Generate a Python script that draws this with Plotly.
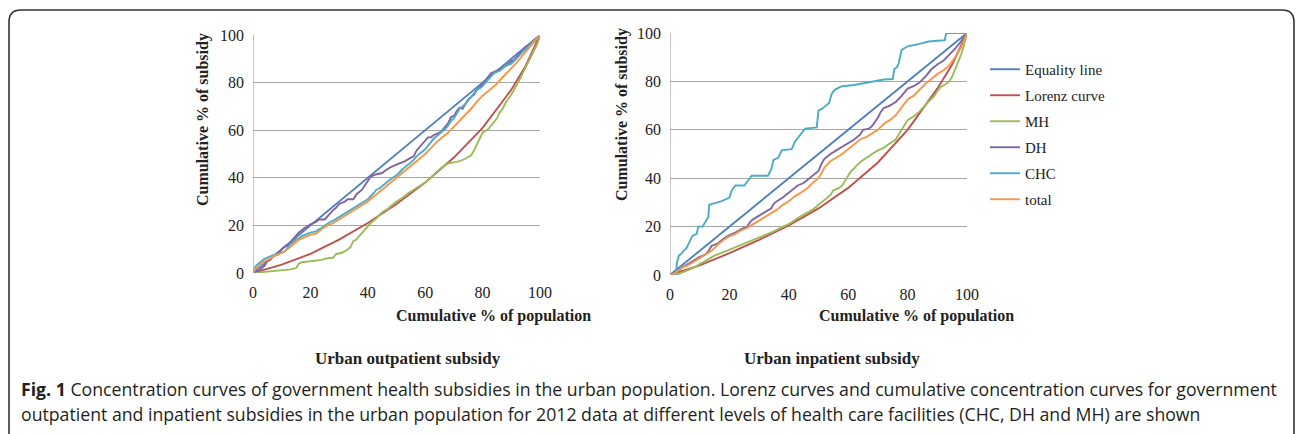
import plotly.graph_objects as go

W, H = 1296, 434

# ---------------- data ----------------
series_names = ["Equality line", "Lorenz curve", "MH", "DH", "CHC", "total"]
series_colors = ["#4F81BD", "#C0504D", "#9BBB59", "#8064A2", "#4BACC6", "#F79646"]

axis_ticks = [0, 20, 40, 60, 80, 100]

# Urban outpatient subsidy
eq_x = [0, 100]
eq_y = [0, 100]

lor_out_x = [0, 10, 20, 30, 40, 50, 60, 70, 80, 90, 95, 100]
lor_out_y = [0, 3.5, 8, 14, 21, 29, 38, 48.5, 61, 77, 87, 100]

mh_out_x = [0, 5, 10, 13, 15, 16, 17, 20, 22, 24, 25, 28, 29, 31, 32.5, 34, 35, 36, 37, 38, 39, 40, 41, 43, 45, 47, 49, 50, 52, 54, 56, 58, 60, 62, 64, 66, 68, 70, 72, 74, 76, 77, 78, 79, 80, 82, 83, 84, 85, 86, 87, 88, 89, 90, 91, 92, 93, 94, 95, 96, 97, 98, 99, 100]
mh_out_y = [0, 0.5, 1, 1.5, 2, 4, 4.5, 4.8, 5, 5.5, 6, 6.5, 8, 8.5, 9.5, 11, 13.5, 14, 15.5, 17, 18, 19.5, 21, 23, 25.5, 27, 29, 30, 31.5, 33.5, 35, 36.5, 38, 40, 42.5, 44.5, 46, 46.5, 47, 48, 49.5, 51.5, 54, 57, 59, 60.5, 62, 63.5, 65, 67.5, 69, 71.5, 73, 75, 77, 79, 81.5, 84, 86.5, 89, 91, 93.5, 96, 100]

dh_out_x = [0, 2, 4, 5, 6, 7, 8, 9, 10, 11, 12, 13, 14, 15, 16, 17, 18, 19, 20, 22, 23, 25, 26, 27, 28, 29, 30, 32, 33, 35, 36, 38, 40, 41, 43, 45, 46, 48, 50, 51, 53, 55, 56, 57, 58, 59, 60, 61, 62, 63, 65, 66, 67, 68, 69, 70, 71, 72, 73, 74, 75, 76, 77, 78, 79, 80, 81, 82, 83, 84, 85, 86, 87, 88, 89, 90, 91, 92, 93, 94, 95, 96, 97, 98, 99, 100]
dh_out_y = [0, 1, 3, 5, 5.5, 7, 7.5, 8, 10, 11, 11.5, 13, 14, 16, 17, 18, 19, 19.5, 20.5, 21.5, 22.5, 22.5, 24, 25, 26.5, 27.5, 29, 30, 31, 31, 33, 35, 39, 40.5, 41.5, 42, 43, 44.5, 45.5, 46, 47, 48.5, 49, 51.5, 53, 54, 55.5, 57, 57, 58, 59, 60, 61.5, 63, 65.5, 66, 68, 69.5, 69, 71, 73, 74, 75, 77, 78, 79.5, 81, 83, 84, 84.5, 85, 85.5, 86.5, 87, 88, 89, 89.5, 91, 92.5, 94, 95, 95.5, 96, 97, 98, 100]

chc_out_x = [0, 1, 2, 3, 4, 5, 6, 7, 8, 9, 10, 11, 12, 13, 14, 15, 16, 17, 18, 19, 20, 22, 23, 24, 25, 27, 28, 30, 32, 34, 36, 38, 40, 42, 43, 44, 46, 48, 50, 52, 54, 56, 57, 58, 60, 62, 63, 65, 67, 68, 69, 70, 71, 72, 73, 74, 75, 76, 77, 78, 79, 80, 81, 82, 83, 84, 85, 86, 87, 88, 89, 90, 91, 92, 93, 94, 95, 96, 97, 98, 99, 100]
chc_out_y = [0, 3, 4, 5, 6, 6.5, 7, 7.5, 7.5, 8, 8.5, 9, 10.5, 12, 13, 14, 14.5, 15.5, 16, 16.5, 17, 17.5, 18.5, 19, 20, 21.5, 22, 23.5, 25, 26.5, 28, 29.5, 31, 33.5, 35, 35.5, 37.5, 39.5, 41, 43.5, 45.5, 47.5, 49, 50, 52, 55, 56.5, 58.5, 60.5, 62, 64, 65, 67, 69, 70, 71, 72.5, 74, 75.5, 77, 77.5, 78.5, 80, 81.5, 83, 84, 84.5, 85, 86, 87, 87.5, 88, 89, 90.5, 92, 93, 94, 95.5, 96.5, 97.5, 98.5, 100]

tot_out_x = [0, 1, 2, 3, 4, 5, 6, 7, 8, 9, 10, 12, 14, 15, 16, 18, 20, 22, 24, 26, 28, 30, 32, 34, 36, 38, 40, 42, 44, 46, 48, 50, 52, 54, 56, 58, 60, 62, 64, 66, 68, 70, 72, 74, 76, 78, 80, 82, 84, 85, 86, 88, 90, 92, 94, 96, 98, 100]
tot_out_y = [0, 2, 3, 4, 5, 5.5, 6, 7, 7.5, 8, 8.5, 10, 12, 13, 14, 15, 16, 16.5, 18.5, 20, 21, 22.5, 24, 25.5, 27, 28.5, 30, 32, 34, 36, 38, 40, 42, 44, 46, 48, 50, 52.5, 55, 57, 59, 61.5, 64, 66.5, 69, 72, 74.5, 76.5, 78.5, 79.5, 81, 83.5, 86, 88.5, 91.5, 94.5, 97, 100]

# Urban inpatient subsidy
lor_in_x = [0, 10, 20, 30, 40, 50, 60, 70, 80, 90, 95, 100]
lor_in_y = [0, 4, 9, 14.5, 20.5, 27.5, 36, 46.5, 60, 77, 87, 100]

mh_in_x = [0, 3, 5, 8, 10, 12, 15, 18, 20, 23, 25, 28, 30, 33, 35, 38, 40, 43, 45, 48, 50, 52, 54, 55, 57, 58, 59, 60, 61, 62, 63, 64, 65, 67, 68, 70, 72, 73, 75, 76, 78, 79, 80, 82, 84, 85, 87, 89, 90, 91, 93, 94, 95, 96, 97, 98, 99, 100]
mh_in_y = [0, 0.5, 1.5, 3, 4.5, 6, 8, 9.5, 10.5, 12, 13, 14.5, 15.5, 17, 18, 20, 21, 23.5, 25, 27, 29, 31, 33, 35, 36, 37, 39, 41, 43, 44, 45.5, 46.5, 47.5, 49, 50, 51.5, 52.5, 53.5, 55, 56, 60, 62, 64, 65.5, 67.5, 69, 71.5, 74, 76, 77.5, 79, 80, 82, 85, 88, 91, 95, 100]

dh_in_x = [0, 2, 4, 6, 8, 10, 12, 13, 14, 15, 16, 18, 20, 22, 24, 26, 27, 28, 30, 32, 34, 35, 36, 38, 40, 42, 43, 45, 46, 48, 50, 51, 52, 53, 54, 56, 58, 60, 62, 64, 65, 67, 68, 70, 71, 72, 74, 76, 78, 80, 82, 84, 86, 88, 90, 92, 94, 96, 98, 100]
dh_in_y = [0, 1, 3, 4.5, 6, 7.5, 8.5, 10, 12, 12.5, 13, 15, 16.5, 17.5, 19, 20, 22, 23, 24.5, 26, 27.5, 29.5, 30.5, 32, 34, 36, 37, 38, 39, 41, 43, 46, 48, 49, 50, 51.5, 53, 54.5, 56, 58, 60, 60.5, 61.5, 65, 67.5, 69, 70, 71.5, 74, 77, 78, 79.5, 82, 85, 87, 88.5, 91, 93.5, 96.5, 100]

chc_in_x = [0, 2, 2.3, 3, 4, 4.5, 5.5, 6, 6.7, 7.5, 8, 9, 9.5, 11, 12, 12.9, 13.2, 15, 16, 17.4, 19, 20, 20.8, 22, 25, 26.4, 27.5, 33, 34.2, 34.8, 36.5, 37.6, 41, 42, 43.2, 44, 45.5, 49.4, 50, 51, 52.5, 53.5, 54.5, 55.5, 57, 58, 62, 64, 66, 68, 70, 72, 75, 75.5, 76.5, 77, 78, 80, 84, 87, 90, 92.5, 93, 100]
chc_in_y = [0, 0, 5, 8, 9, 10, 11, 12.5, 14, 16, 16.5, 17, 20, 20, 22, 24, 29, 29.5, 30, 30.5, 31.5, 32, 35, 37, 37, 39, 41, 41, 44, 47.5, 48.5, 51.5, 52, 55, 57, 58.5, 60.5, 61, 68, 68.5, 70, 71, 75, 76.5, 77.5, 78, 78.5, 79, 79.5, 80, 80.5, 80.8, 81, 85, 86, 87.5, 93, 94.5, 95.5, 96.5, 96.8, 97, 100, 100]

tot_in_x = [0, 2, 4, 6, 8, 10, 12, 14, 16, 18, 20, 22, 24, 26, 28, 30, 32, 34, 36, 38, 40, 42, 44, 46, 48, 50, 51, 52, 54, 56, 58, 60, 62, 64, 66, 68, 70, 72, 74, 76, 78, 80, 82, 84, 86, 88, 90, 92, 94, 96, 98, 100]
tot_in_y = [0, 1, 3, 4, 5.5, 7, 8.5, 10, 12.5, 14.5, 16, 17, 18.5, 19.5, 21, 22.5, 24, 25.5, 27, 29, 30.5, 32.5, 34, 35.5, 38, 40, 42, 44.5, 47, 48.5, 50, 52, 54, 56, 57, 58.5, 60, 62.5, 64, 66, 69.5, 72.5, 74, 76.5, 79, 81, 83, 84.5, 86.5, 90, 94, 100]

out_series = [(eq_x, eq_y), (lor_out_x, lor_out_y), (mh_out_x, mh_out_y),
              (dh_out_x, dh_out_y), (chc_out_x, chc_out_y), (tot_out_x, tot_out_y)]
in_series = [(eq_x, eq_y), (lor_in_x, lor_in_y), (mh_in_x, mh_in_y),
             (dh_in_x, dh_in_y), (chc_in_x, chc_in_y), (tot_in_x, tot_in_y)]

panel_titles = ["Urban outpatient subsidy", "Urban inpatient subsidy"]
x_title = "Cumulative % of population"
y_title = "Cumulative % of subsidy"
caption_1 = ("<b>Fig. 1</b> Concentration curves of government health subsidies in the urban population. "
             "Lorenz curves and cumulative concentration curves for government")
caption_2 = ("outpatient and inpatient subsidies in the urban population for 2012 data at different levels "
             "of health care facilities (CHC, DH and MH) are shown")

# ---------------- layout helpers ----------------
def px(x):
    return x / W

def py(y):
    return 1 - y / H

SERIF = "Liberation Serif"
GRID = "#A6A6A6"
TXT = "#222222"

fig = go.Figure()

for i, (name, col) in enumerate(zip(series_names, series_colors)):
    xs, ys = out_series[i]
    fig.add_trace(go.Scatter(x=xs, y=ys, mode="lines", name=name,
                             line=dict(color=col, width=1.9),
                             legendgroup=name, showlegend=True,
                             xaxis="x", yaxis="y"))
for i, (name, col) in enumerate(zip(series_names, series_colors)):
    xs, ys = in_series[i]
    fig.add_trace(go.Scatter(x=xs, y=ys, mode="lines", name=name,
                             line=dict(color=col, width=1.9),
                             legendgroup=name, showlegend=False,
                             xaxis="x2", yaxis="y2"))

axis_common = dict(range=[0, 100], tickvals=axis_ticks, ticktext=[str(t) for t in axis_ticks],
                   tickfont=dict(family=SERIF, size=16, color=TXT),
                   zeroline=False, showline=False, ticks="", fixedrange=True, automargin=False)

fig.update_layout(
    width=W, height=H,
    margin=dict(l=0, r=0, t=0, b=0, autoexpand=False),
    paper_bgcolor="white", plot_bgcolor="white",
    xaxis=dict(domain=[px(253), px(540)], anchor="y", showgrid=False, ticklabelstandoff=8, **axis_common),
    yaxis=dict(domain=[py(273), py(35)], anchor="x", showgrid=True, gridcolor=GRID, gridwidth=1.3,
               ticklabelstandoff=8, **axis_common),
    xaxis2=dict(domain=[px(670), px(967)], anchor="y2", showgrid=False, ticklabelstandoff=8, **axis_common),
    yaxis2=dict(domain=[py(275), py(33)], anchor="x2", showgrid=True, gridcolor=GRID, gridwidth=1.3,
                ticklabelstandoff=8, **axis_common),
    legend=dict(x=px(985), y=py(53), xanchor="left", yanchor="top",
                font=dict(family=SERIF, size=15, color=TXT),
                tracegroupgap=3.5, itemwidth=30, bgcolor="rgba(0,0,0,0)"),
    showlegend=True,
)

# y-axis lines (vertical left axis)
for xref, yref in [("x", "y"), ("x2", "y2")]:
    fig.add_shape(type="line", xref=xref, yref=yref, x0=0, x1=0, y0=0, y1=100,
                  line=dict(color=GRID, width=1.3), layer="below")

annotations = []
# x titles
for xr in (593, 1016):
    annotations.append(dict(text="<b>" + x_title + "</b>", x=px(xr), y=py(316), xref="paper", yref="paper",
                            xanchor="right", yanchor="middle", showarrow=False,
                            font=dict(family=SERIF, size=16, color=TXT)))
# y titles
for xr, yr in ((203, 120), (622, 115)):
    annotations.append(dict(text="<b>" + y_title + "</b>", x=px(xr), y=py(yr), xref="paper", yref="paper",
                            xanchor="center", yanchor="middle", textangle=-90, showarrow=False,
                            font=dict(family=SERIF, size=16, color=TXT)))
# panel titles
for t, xr in zip(panel_titles, (408, 832)):
    annotations.append(dict(text="<b>" + t + "</b>", x=px(xr), y=py(358), xref="paper", yref="paper",
                            xanchor="center", yanchor="middle", showarrow=False,
                            font=dict(family=SERIF, size=17, color=TXT)))
# caption
for txt, yr in ((caption_1, 389), (caption_2, 414)):
    annotations.append(dict(text=txt, x=px(19), y=py(yr), xref="paper", yref="paper",
                            xanchor="left", yanchor="middle", align="left", showarrow=False,
                            font=dict(family="Open Sans", size=17.7, color="#231F20")))
fig.update_layout(annotations=annotations)

# rounded border
r = 12
L, T, R, B = 9, 10, 1294, 445
path = (f"M {px(L)},{py(B)} L {px(L)},{py(T + r)} Q {px(L)},{py(T)} {px(L + r)},{py(T)} "
        f"L {px(R - r)},{py(T)} Q {px(R)},{py(T)} {px(R)},{py(T + r)} L {px(R)},{py(B)}")
fig.add_shape(type="path", path=path, xref="paper", yref="paper",
              line=dict(color="#333333", width=1.6))

fig.write_html("out.html", config={"displayModeBar": False, "staticPlot": True},
               post_script="document.body.style.margin='0';document.body.style.overflow='hidden';")
